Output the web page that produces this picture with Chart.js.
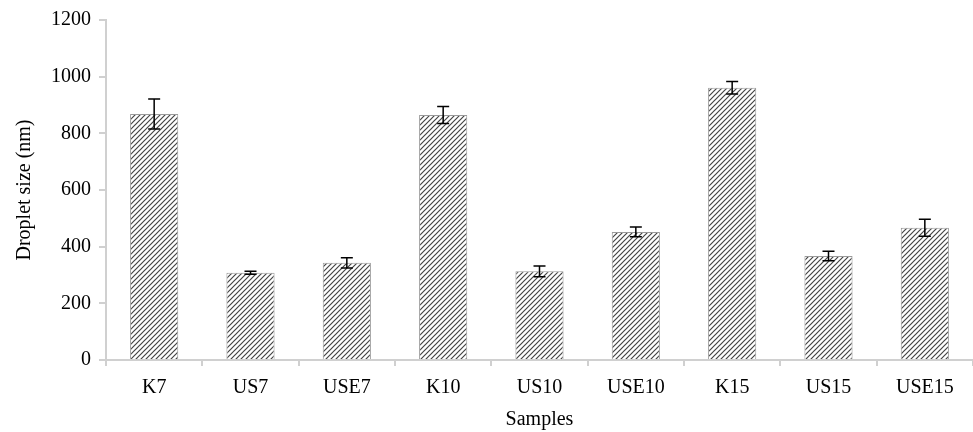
<!DOCTYPE html>
<html>
<head>
<meta charset="utf-8">
<script src="https://cdn.jsdelivr.net/npm/chart.js@4.4.0/dist/chart.umd.min.js"></script>
<style>
  html, body { margin: 0; padding: 0; background: #fff; }
  #wrap { width: 973px; height: 432px; }
</style>
</head>
<body>
<div id="wrap"><canvas id="grafica" width="973" height="432"></canvas></div>
<script>
// Datos
const muestras = ['K7', 'US7', 'USE7', 'K10', 'US10', 'USE10', 'K15', 'US15', 'USE15'];
const tamanos = [868, 308, 343, 865, 313, 452, 961, 367, 467];
const errores = [53, 5, 18, 30, 19, 17, 22, 17, 30];
const ticksY = [0, 200, 400, 600, 800, 1000, 1200];

// Relleno rayado diagonal
function crearRayado() {
    const p = 5;
    const c = document.createElement('canvas');
    c.width = p; c.height = p;
    const g = c.getContext('2d');
    g.fillStyle = '#fff';
    g.fillRect(0, 0, p, p);
    g.strokeStyle = '#444';
    g.lineWidth = 1.2;
    g.beginPath();
    g.moveTo(0, p); g.lineTo(p, 0);
    g.moveTo(-1, 1); g.lineTo(1, -1);
    g.moveTo(p - 1, p + 1); g.lineTo(p + 1, p - 1);
    g.stroke();
    return document.getElementById('grafica').getContext('2d').createPattern(c, 'repeat');
}

// Barras de error dibujadas con las escalas del grafico
const barrasError = {
    id: 'barrasError',
    afterDatasetsDraw(chart) {
        const ctx = chart.ctx;
        const y = chart.scales.y;
        const meta = chart.getDatasetMeta(0);
        ctx.save();
        ctx.strokeStyle = '#000';
        ctx.lineWidth = 1.5;
        meta.data.forEach((barra, i) => {
            const v = tamanos[i], e = errores[i];
            const yArriba = y.getPixelForValue(v + e);
            const yAbajo = y.getPixelForValue(v - e);
            const x = barra.x;
            ctx.beginPath();
            ctx.moveTo(x, yArriba); ctx.lineTo(x, yAbajo);
            ctx.moveTo(x - 6, yArriba); ctx.lineTo(x + 6, yArriba);
            ctx.moveTo(x - 6, yAbajo); ctx.lineTo(x + 6, yAbajo);
            ctx.stroke();
        });
        ctx.restore();
    }
};

const fuente = () => ({ family: 'Liberation Serif', size: 20 });

new Chart(document.getElementById('grafica'), {
    type: 'bar',
    data: {
        labels: muestras,
        datasets: [{
            label: 'Droplet size',
            data: tamanos,
            backgroundColor: crearRayado(),
            borderColor: '#9a9a9a',
            borderWidth: 1,
            categoryPercentage: 1,
            barPercentage: 0.5
        }]
    },
    options: {
        responsive: false,
        animation: false,
        layout: { padding: { top: 19, right: 0, left: 0, bottom: 0 } },
        plugins: {
            legend: { display: false },
            tooltip: { enabled: false }
        },
        scales: {
            y: {
                min: 0,
                max: 1200,
                afterFit: s => { s.width = 106; },
                afterBuildTicks: s => { s.ticks = ticksY.map(v => ({ value: v })); },
                ticks: { color: '#000', font: fuente(), padding: 8, callback: v => String(v) },
                grid: { drawOnChartArea: false, drawTicks: true, tickLength: 7, color: '#d0d0d0', lineWidth: 2 },
                border: { color: '#d0d0d0', width: 2 },
                title: { display: true, text: 'Droplet size (nm)', color: '#000', font: fuente(), padding: { top: 13, bottom: 0 } }
            },
            x: {
                afterFit: s => { s.height = 72; },
                ticks: { color: '#000', font: fuente(), padding: 10, maxRotation: 0 },
                grid: { offset: true, drawOnChartArea: false, drawTicks: true, tickLength: 6, color: '#d0d0d0', lineWidth: 2 },
                border: { color: '#d0d0d0', width: 2 },
                title: { display: true, text: 'Samples', color: '#000', font: fuente(), padding: { top: 0, bottom: 0 } }
            }
        }
    },
    plugins: [barrasError]
});
</script>
</body>
</html>
